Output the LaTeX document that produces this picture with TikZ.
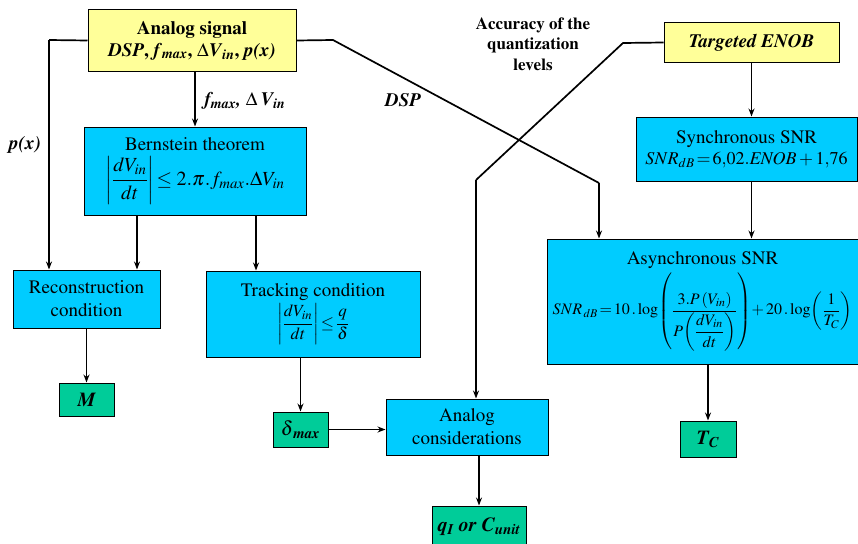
\documentclass[tikz,border=0pt]{standalone}
\usepackage[T1]{fontenc}
\usepackage{amsmath}
\usepackage{mathptmx}
\usetikzlibrary{arrows.meta}
\definecolor{ylw}{HTML}{FFFF99}
\definecolor{cyn}{HTML}{00CCFF}
\definecolor{grnc}{HTML}{00CC99}
\tikzset{
 basebox/.style={draw=black, line width=1pt, inner sep=0pt, align=center,
   font=\fontsize{19}{23}\selectfont},
 yelbox/.style={basebox, fill=ylw},
 blubox/.style={basebox, fill=cyn},
 grnbox/.style={basebox, fill=grnc, font=\fontsize{20}{22}\selectfont\bfseries\itshape},
 arr/.style={line width=1.7pt, -{Stealth[length=8pt,width=6pt]}},
 ln/.style={line width=1.7pt},
 lab/.style={font=\fontsize{19}{22}\selectfont\bfseries\itshape},
}
\begin{document}
\begin{tikzpicture}[x=1pt,y=-1pt]
\useasboundingbox (0,0) rectangle (858,543);
% boxes
\node[yelbox, minimum width=208pt, minimum height=61pt] (sig) at (192,40.5)
  {\textbf{Analog signal}\\[-1pt]\textbf{\textit{DSP}, \textit{f}\textsubscript{\textit{max}}, $\Delta$\textit{V}\textsubscript{\textit{in}}, \textit{p(x)}}};
\node[yelbox, minimum width=175pt, minimum height=39pt, font=\fontsize{19}{22}\selectfont\bfseries\itshape] (enob) at (751.5,42.5) {Targeted ENOB};
\node[blubox, minimum width=222pt, minimum height=88pt] (bern) at (195,171)
  {Bernstein theorem\\[5pt]
   {\fontsize{20}{22}\selectfont$\left|\dfrac{dV_{in}}{dt}\right|\!\le 2.\pi.f_{max}.\Delta V_{in}$}};
\node[blubox, minimum width=221pt, minimum height=64pt] (sync) at (746.5,149)
  {Synchronous SNR\\[-2pt]
   {\fontsize{18}{20}\selectfont$SNR_{dB}\!=\!6{,}02.\mathit{ENOB}+1{,}76$}};
\node[blubox, minimum width=147pt, minimum height=58pt] (recon) at (86.5,299)
  {Reconstruction\\condition};
\node[blubox, minimum width=214pt, minimum height=86pt] (track) at (313,314)
  {Tracking condition\\[2pt]
   {\fontsize{17}{20}\selectfont$\left|\dfrac{dV_{in}}{dt}\right|\!\le\!\dfrac{q}{\delta}$}};
\node[blubox, minimum width=311pt, minimum height=125pt] (async) at (702.5,301.5)
  {Asynchronous SNR\\[3pt]
   {\fontsize{16}{20}\selectfont$SNR_{\,dB}\!=\!10\,.\log\!\left(\dfrac{3.P\left(V_{in}\right)}{P\!\left(\dfrac{dV_{in}}{dt}\right)}\right)\!+20\,.\log\!\left(\dfrac{1}{T_C}\right)$}};
\node[grnbox, minimum width=55pt, minimum height=33pt] (m) at (86.5,399.5) {M};
\node[grnbox, minimum width=55pt, minimum height=35pt] (dmax) at (300.5,429.5) {$\delta$\textsubscript{max}};
\node[blubox, minimum width=162pt, minimum height=56pt] (anac) at (467,427)
  {Analog\\considerations};
\node[grnbox, minimum width=94pt, minimum height=45pt, text depth=8pt] (q) at (479,528.5) {q\textsubscript{I} or C\textsubscript{unit}};
\node[grnbox, minimum width=56pt, minimum height=36pt] (tc) at (708,439) {T\textsubscript{C}};
% labels
\node[lab, anchor=west] (lf) at (201,101) {\textit{f}\textsubscript{max}, $\Delta$\,V\textsubscript{in}};
\node[lab] (ldsp) at (403,100) {DSP};
\node[lab] (lpx) at (25,145) {p(x)};
\node[font=\fontsize{17}{20.5}\selectfont\bfseries, align=center] (lacc) at (533,44)
  {Accuracy of the\\quantization\\levels};
% coordinates
\coordinate (a1) at (49,40);
\coordinate (b1) at (333,40);
\coordinate (b2) at (599,183);
\coordinate (c1) at (623,43);
\coordinate (c2) at (476,180);
% connectors
\draw[arr] (bern.north |- sig.south) -- (bern.north);
\draw[ln] (sig.west) -- (a1);
\draw[arr] (a1) -- (a1 |- recon.north);
\draw[ln] (sig.east) -- (b1) -- (b2);
\draw[arr] (b2) -- (b2 |- async.north);
\draw[ln] (enob.west) -- (c1) -- (c2);
\draw[arr] (c2) -- (c2 |- anac.north);
\draw[arr] ([xshift=-58pt]bern.south) -- ([xshift=-58pt]bern.south |- recon.north);
\draw[arr] ([xshift=61pt]bern.south) -- ([xshift=61pt]bern.south |- track.north);
\draw[arr] (recon.south) -- (m.north);
\draw[arr] (dmax.north |- track.south) -- (dmax.north);
\draw[arr] (dmax.east) -- (dmax.east -| anac.west);
\draw[arr] (q.north |- anac.south) -- (q.north);
\draw[arr] (enob.south) -- (enob.south |- sync.north);
\draw[arr] (enob.south |- sync.south) -- (enob.south |- async.north);
\draw[arr] (tc.north |- async.south) -- (tc.north);
\end{tikzpicture}
\end{document}
